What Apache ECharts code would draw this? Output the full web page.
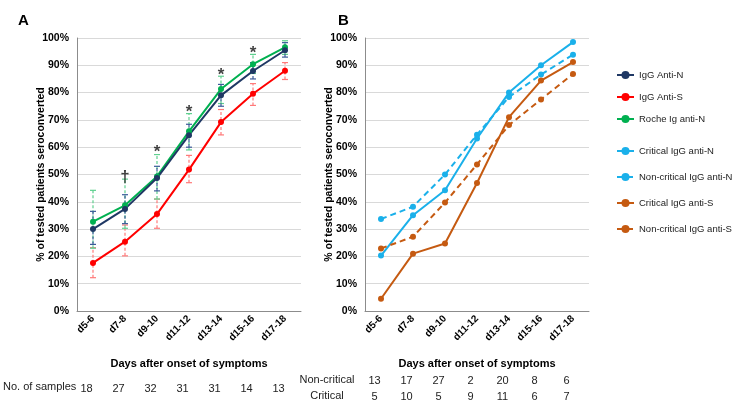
<!DOCTYPE html>
<html>
<head>
<meta charset="utf-8">
<script src="https://cdn.jsdelivr.net/npm/echarts@6/dist/echarts.min.js"></script>
<style>
html,body{margin:0;padding:0;background:#fff;}
#main{width:738px;height:406px;}
</style>
</head>
<body>
<div id="main"></div>
<script>
// ---- Data ----
const categories = ['d5-6','d7-8','d9-10','d11-12','d13-14','d15-16','d17-18'];
const yTicks = [0,10,20,30,40,50,60,70,80,90,100];

// Panel A
const iggAntiN     = [30.0,37.4,48.7,64.4,79.0,87.9,95.5];
const iggAntiNLow  = [24.4,32.0,44.0,60.0,75.0,85.0,93.0];
const iggAntiNHigh = [36.5,42.6,53.0,68.4,83.0,91.0,98.3];

const iggAntiS     = [17.6,25.4,35.5,51.8,69.2,79.6,88.0];
const iggAntiSLow  = [12.2,20.2,30.3,47.0,64.5,75.3,84.8];
const iggAntiSHigh = [23.2,31.5,41.0,57.0,73.8,83.3,91.0];

const rocheAntiN     = [32.7,38.7,49.3,65.8,81.3,90.4,96.6];
const rocheAntiNLow  = [23.0,30.3,41.0,59.0,76.0,87.0,94.0];
const rocheAntiNHigh = [44.2,48.3,57.3,72.3,86.0,94.0,99.0];

const sigMarks  = ['','†','*','*','*','*','*'];
const sigMarkY  = [null,50.5,59.6,74.3,87.8,95.8,100.2];

const samplesA = [18,27,32,31,31,14,13];

// Panel B
const critAntiN    = [20.3,35.1,44.2,63.2,80.0,90.0,98.5];
const nonCritAntiN = [33.7,38.2,50.0,64.6,78.4,86.6,93.9];
const critAntiS    = [4.5,21.0,24.7,46.9,71.0,84.4,91.2];
const nonCritAntiS = [22.9,27.2,39.7,53.7,68.1,77.5,86.8];

const nonCriticalCounts = [13,17,27,2,20,8,6];
const criticalCounts    = [5,10,5,9,11,6,7];

// ---- Styles ----
const FONT = 'Liberation Sans, Arial, sans-serif';
const C_NAVY = '#1f3864', C_RED = '#ff0000', C_GREEN = '#00b050';
const C_BLUE = '#1ab0ea', C_ORANGE = '#c55a11';

function errData(low, high){
  return categories.map((c,i)=>[i, low[i], high[i]]);
}
function errSeries(name, low, high, color){
  return {
    type:'custom', name: name + ' err', xAxisIndex:0, yAxisIndex:0, z:1,
    silent:true,
    data: errData(low, high),
    renderItem: function(params, api){
      const x = api.value(0);
      const p1 = api.coord([x, api.value(1)]);
      const p2 = api.coord([x, api.value(2)]);
      const w = 3;
      const st = {stroke: color, lineWidth: 1.2, lineDash:[3,2]};
      const cs = {stroke: color, lineWidth: 1.2};
      return {type:'group', children:[
        {type:'line', shape:{x1:p1[0],y1:p1[1],x2:p2[0],y2:p2[1]}, style:st},
        {type:'line', shape:{x1:p1[0]-w,y1:p1[1],x2:p1[0]+w,y2:p1[1]}, style:cs},
        {type:'line', shape:{x1:p2[0]-w,y1:p2[1],x2:p2[0]+w,y2:p2[1]}, style:cs}
      ]};
    }
  };
}
function lineSeries(name, data, color, xi, yi, dashed){
  return {
    type:'line', name:name, data:data, xAxisIndex:xi, yAxisIndex:yi,
    symbol:'circle', symbolSize:6, z:3,
    itemStyle:{color:color},
    lineStyle:{color:color, width:2, type: dashed ? [6,4] : 'solid'},
    emphasis:{disabled:true}
  };
}

const yAxisBase = {
  type:'value', min:0, max:100, interval:10,
  name:'% of tested patients seroconverted', nameLocation:'middle', nameGap:30,
  nameMoveOverlap:false,
  nameTextStyle:{fontFamily:FONT, fontWeight:'bold', fontSize:10.5, color:'#000'},
  axisLine:{show:true, lineStyle:{color:'#8c8c8c', width:1}},
  axisTick:{show:false},
  axisLabel:{formatter:'{value}%', fontFamily:FONT, fontWeight:'bold', fontSize:10.5, color:'#000', margin:8},
  splitLine:{lineStyle:{color:'#d9d9d9', width:1}}
};
function catAxis(grid){
  return {
    type:'category', gridIndex:grid, data:categories, boundaryGap:true,
    name:'Days after onset of symptoms', nameLocation:'middle', nameGap:47,
    nameTextStyle:{fontFamily:FONT, fontWeight:'bold', fontSize:11, color:'#000'},
    axisLine:{lineStyle:{color:'#8c8c8c', width:1}},
    axisTick:{show:false},
    axisLabel:{rotate:45, fontFamily:FONT, fontWeight:'bold', fontSize:10, color:'#000', margin:6, interval:0}
  };
}
function countAxis(grid, data, offset){
  return {
    type:'category', gridIndex:grid, data:data.map(String), position:'bottom', offset:offset,
    axisLine:{show:false}, axisTick:{show:false}, splitLine:{show:false},
    axisLabel:{fontFamily:FONT, fontSize:11, color:'#222', margin:8, interval:0, padding:[0,13,0,0]}
  };
}

const chart = echarts.init(document.getElementById('main'), null, {renderer:'canvas'});
chart.setOption({
  animation:false,
  backgroundColor:'#fff',
  textStyle:{fontFamily:FONT},
  grid:[
    {left:77, top:38, width:224, height:273},
    {left:365, top:38, width:224, height:273}
  ],
  xAxis:[
    catAxis(0),
    catAxis(1),
    countAxis(0, samplesA, 64),
    countAxis(1, nonCriticalCounts, 56),
    countAxis(1, criticalCounts, 72)
  ],
  yAxis:[
    Object.assign({gridIndex:0}, yAxisBase),
    Object.assign({gridIndex:1}, yAxisBase)
  ],
  legend:[
    {orient:'vertical', left:616, top:70, padding:0, itemWidth:17, itemHeight:10, itemGap:12,
     textStyle:{fontFamily:FONT, fontSize:9.5, color:'#222'},
     data:['IgG Anti-N','IgG Anti-S','Roche Ig anti-N']},
    {orient:'vertical', left:616, top:146, padding:0, itemWidth:17, itemHeight:10, itemGap:16,
     textStyle:{fontFamily:FONT, fontSize:9.5, color:'#222'},
     data:['Critical IgG anti-N','Non-critical IgG anti-N','Critical IgG anti-S','Non-critical IgG anti-S']}
  ],
  graphic:[
    {type:'text', left:18, top:13, style:{text:'A', font:'bold 15px '+FONT, fill:'#000'}},
    {type:'text', left:338, top:13, style:{text:'B', font:'bold 15px '+FONT, fill:'#000'}},
    {type:'text', left:3, top:381, style:{text:'No. of samples', font:'11px '+FONT, fill:'#222'}},
    {type:'text', x:327, y:380, style:{text:'Non-critical', font:'11px '+FONT, fill:'#222', align:'center', verticalAlign:'middle'}},
    {type:'text', x:327, y:396, style:{text:'Critical', font:'11px '+FONT, fill:'#222', align:'center', verticalAlign:'middle'}}
  ],
  series:[
    errSeries('IgG Anti-S', iggAntiSLow, iggAntiSHigh, '#ff7a7a'),
    errSeries('Roche Ig anti-N', rocheAntiNLow, rocheAntiNHigh, '#5fd08f'),
    errSeries('IgG Anti-N', iggAntiNLow, iggAntiNHigh, '#3b5b99'),
    lineSeries('IgG Anti-S', iggAntiS, C_RED, 0, 0, false),
    lineSeries('Roche Ig anti-N', rocheAntiN, C_GREEN, 0, 0, false),
    lineSeries('IgG Anti-N', iggAntiN, C_NAVY, 0, 0, false),
    {
      type:'scatter', name:'sig', xAxisIndex:0, yAxisIndex:0, symbolSize:0, silent:true, z:5,
      data: categories.map((c,i)=> sigMarkY[i]==null ? null : {value:[i, sigMarkY[i]]}),
      label:{show:true, position:'inside', offset:[0,4],
        formatter:(p)=>sigMarks[p.dataIndex],
        fontFamily:FONT, fontSize:17, fontWeight:'bold', color:'#111'}
    },
    lineSeries('Critical IgG anti-N', critAntiN, C_BLUE, 1, 1, false),
    lineSeries('Non-critical IgG anti-N', nonCritAntiN, C_BLUE, 1, 1, true),
    lineSeries('Critical IgG anti-S', critAntiS, C_ORANGE, 1, 1, false),
    lineSeries('Non-critical IgG anti-S', nonCritAntiS, C_ORANGE, 1, 1, true)
  ]
});
</script>
</body>
</html>
